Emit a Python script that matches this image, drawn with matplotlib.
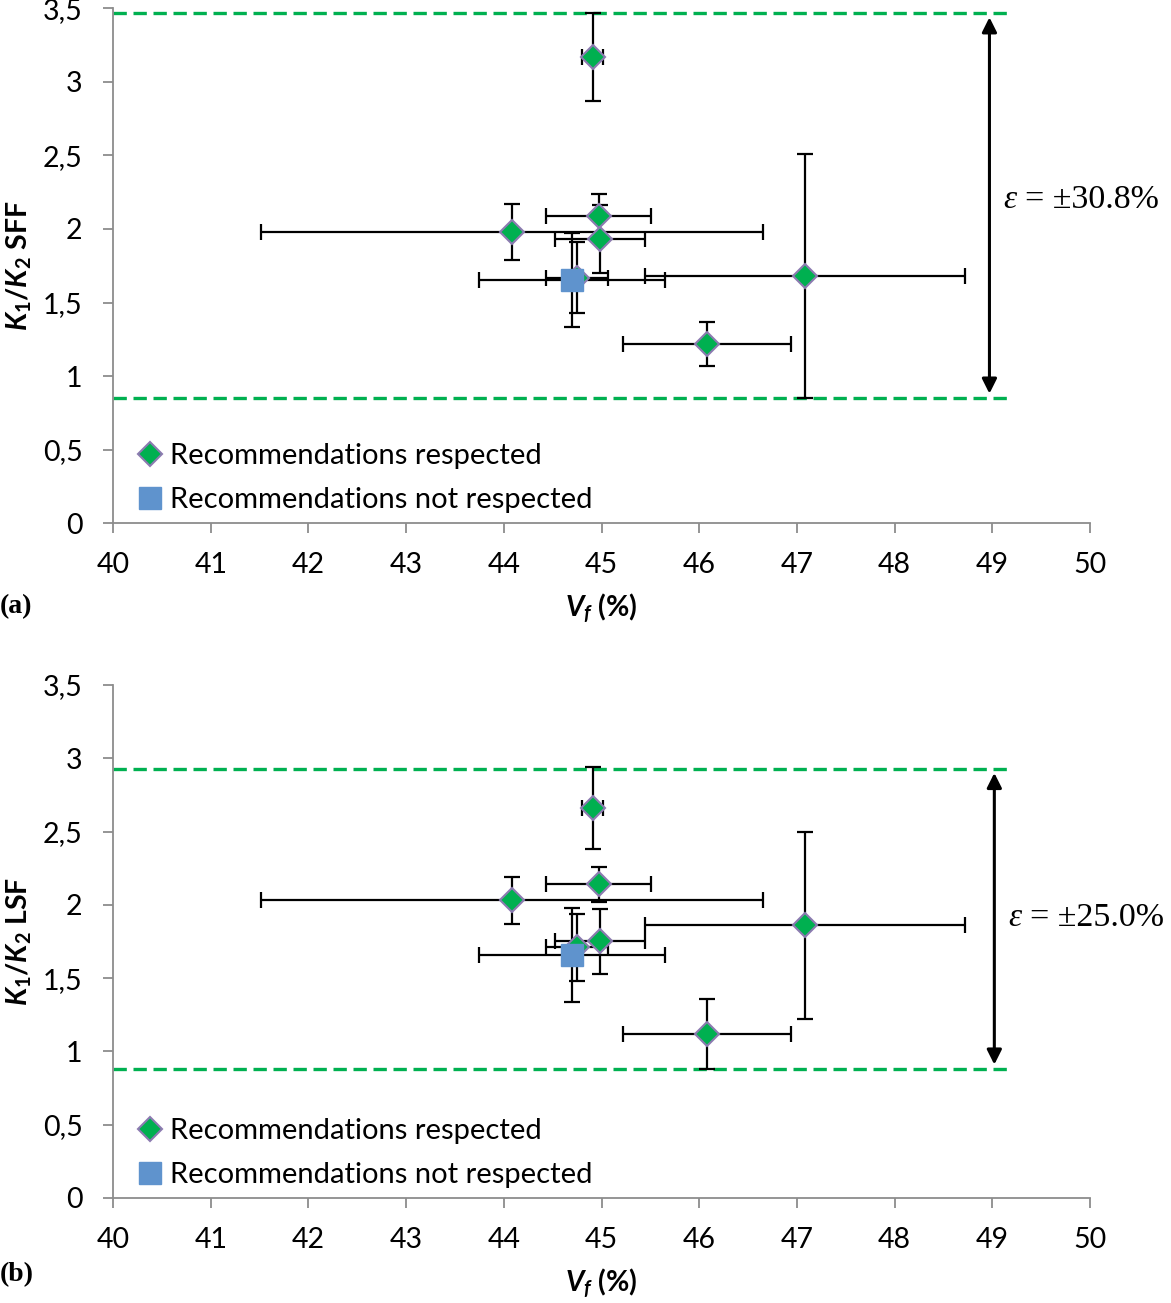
import numpy as np
import matplotlib.pyplot as plt
from matplotlib.lines import Line2D
from matplotlib.ticker import FuncFormatter

plt.rcParams['font.family'] = ['Lato', 'DejaVu Sans']
plt.rcParams['mathtext.fontset'] = 'custom'
plt.rcParams['mathtext.rm'] = 'Lato:bold'
plt.rcParams['mathtext.it'] = 'Lato:bold:italic'
plt.rcParams['mathtext.bf'] = 'Lato:bold'

# recommendations respected (diamonds)
vf_ok = [44.91, 44.08, 44.97, 44.98, 44.75, 46.08, 47.08]
vf_ok_err = [0.11, 2.57, 0.54, 0.46, 0.32, 0.86, 1.64]
sff_ok = [3.17, 1.98, 2.09, 1.93, 1.67, 1.22, 1.68]
sff_ok_err = [0.30, 0.19, 0.15, 0.23, 0.24, 0.15, 0.83]
lsf_ok = [2.66, 2.03, 2.14, 1.75, 1.71, 1.12, 1.86]
lsf_ok_err = [0.28, 0.16, 0.12, 0.22, 0.23, 0.24, 0.64]

# recommendations not respected (square)
vf_no = [44.70]
vf_no_err = [0.95]
sff_no = [1.65]
sff_no_err = [0.32]
lsf_no = [1.66]
lsf_no_err = [0.32]

# error band
sff_band = [0.85, 3.47]
lsf_band = [0.88, 2.93]
eps_labels = ['= ±30.8%', '= ±25.0%']
ylabels = ['$K_1/K_2$ SFF', '$K_1/K_2$ LSF']
panel = ['(a)', '(b)']

green = '#00B050'
blue = '#5F93CD'
purple = '#8C7BB0'
gray = '#8C8C8C'
serif = ['Liberation Serif', 'DejaVu Serif']

fig = plt.figure(figsize=(11.71, 13.03), dpi=100)
ax1 = fig.add_axes([0.0965, 0.5986, 0.8344, 0.3949])
ax2 = fig.add_axes([0.0965, 0.0806, 0.8344, 0.3937])

panels = [(ax1, sff_ok, sff_ok_err, sff_no, sff_no_err, sff_band, 48.97, 2.2),
          (ax2, lsf_ok, lsf_ok_err, lsf_no, lsf_no_err, lsf_band, 49.02, 1.91)]

for k, (ax, yo, yoe, yn, yne, band, xarrow, ytext) in enumerate(panels):
    ax.errorbar(vf_ok, yo, xerr=vf_ok_err, yerr=yoe, fmt='none', ecolor='black',
                elinewidth=1.6, capsize=5.5, capthick=1.6, zorder=2)
    ax.errorbar(vf_no, yn, xerr=vf_no_err, yerr=yne, fmt='none', ecolor='black',
                elinewidth=1.6, capsize=5.5, capthick=1.6, zorder=2)
    ax.plot(vf_ok, yo, 'D', ms=12.5, mfc=green, mec=purple, mew=1.5, ls='none', zorder=3)
    ax.plot(vf_no, yn, 's', ms=15.5, mfc=blue, mec=blue, ls='none', zorder=4)

    for yb in band:
        ax.plot([40, 49.2], [yb, yb], ls=(0, (4, 2)), color=green, lw=2.4, zorder=1)
    ax.annotate('', xy=(xarrow, band[0] + 0.03), xytext=(xarrow, band[1] - 0.03),
                arrowprops=dict(arrowstyle='<|-|>', color='black', lw=2.2,
                                mutation_scale=22, shrinkA=0, shrinkB=0))
    ax.text(xarrow + 0.14, ytext, 'ε', fontsize=24, style='italic', family=serif,
            va='center', ha='left', clip_on=False)
    ax.text(xarrow + 0.36, ytext, eps_labels[k], fontsize=24.5, family=serif,
            va='center', ha='left', clip_on=False)

    ax.set_xlim(40, 50)
    ax.set_ylim(0, 3.5)
    ax.set_xticks(np.arange(40, 51, 1))
    ax.set_yticks(np.arange(0, 3.51, 0.5))
    ax.yaxis.set_major_formatter(FuncFormatter(lambda v, p: f'{v:g}'.replace('.', ',')))
    ax.tick_params(labelsize=20.5, direction='out', length=7, color=gray, width=1.3)
    ax.tick_params(axis='x', pad=14)
    ax.tick_params(axis='y', pad=15)
    for s in ['top', 'right']:
        ax.spines[s].set_visible(False)
    for s in ['left', 'bottom']:
        ax.spines[s].set_color(gray)
        ax.spines[s].set_linewidth(1.3)

    ax.set_ylabel(ylabels[k], fontsize=20.5, fontweight='bold', labelpad=6)
    ax.set_xlabel('$V_f$ (%)', fontsize=20.5, fontweight='bold', labelpad=10)

    handles = [Line2D([], [], marker='D', ms=12.5, mfc=green, mec=purple, mew=1.5, ls='none'),
               Line2D([], [], marker='s', ms=15.5, mfc=blue, mec=blue, ls='none')]
    ax.legend(handles, ['Recommendations respected', 'Recommendations not respected'],
              loc='lower left', bbox_to_anchor=(0.018, -0.003), frameon=False,
              fontsize=21, handlelength=0.5, handletextpad=0.45, labelspacing=0.6,
              borderaxespad=0.0)

fig.text(0.0, 1 - 607 / 1303, panel[0], fontsize=20, fontweight='bold',
         family=serif, va='center')
fig.text(0.0, 1 - 1275 / 1303, panel[1], fontsize=20, fontweight='bold',
         family=serif, va='center')

fig.savefig('out.png', dpi=100)
